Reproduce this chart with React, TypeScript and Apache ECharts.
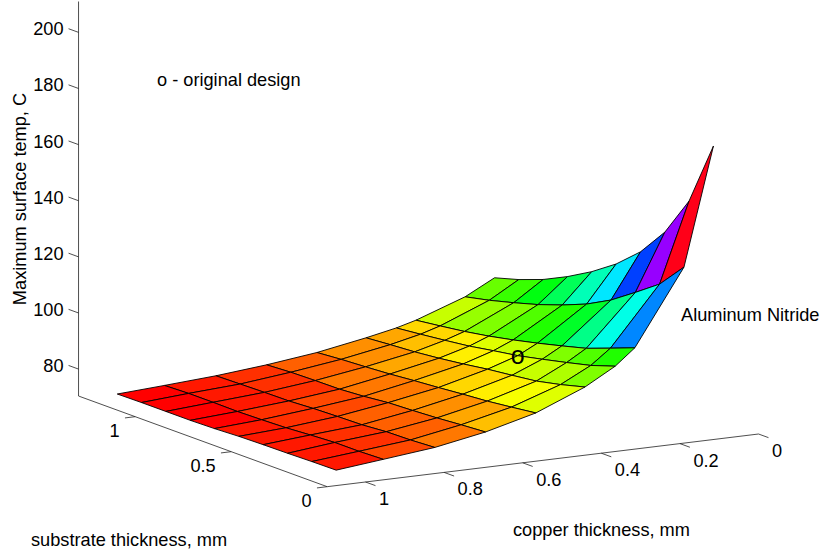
import React, { useEffect, useRef } from "react";
import * as echarts from "echarts";

// Grid values
const copper = [0.1, 0.175, 0.3, 0.35, 0.427, 0.552, 0.68, 0.809, 0.94, 1.06];
const substrate = [0.03, 0.157, 0.283, 0.41, 0.537, 0.664, 0.79, 0.917, 1.044, 1.17];

const temp0 = [174.0, 151.2, 137.0, 126.8, 119.3, 113.4, 108.5, 104.3, 101.1, 98.6];
const temp1 = [132.1, 122.9, 116.8, 110.9, 106.3, 102.8, 99.8, 97.3, 95.0, 93.1];
const temp2 = [105.5, 102.2, 99.0, 96.7, 94.5, 92.5, 90.7, 89.2, 88.0, 86.9];
const temp3 = [99.8, 96.9, 94.8, 92.8, 90.9, 89.5, 88.0, 86.9, 85.9, 85.0];
const temp4 = [93.7, 91.4, 89.5, 88.4, 87.4, 86.1, 85.0, 84.1, 83.5, 82.8];
const temp5 = [86.6, 85.5, 84.5, 83.8, 83.0, 82.3, 81.5, 80.9, 80.4, 79.7];
const temp6 = [82.0, 81.4, 80.7, 80.2, 79.8, 78.9, 78.3, 78.2, 78.0, 77.5];
const temp7 = [78.7, 78.2, 78.0, 77.3, 77.1, 76.8, 76.3, 76.2, 76.0, 75.8];
const temp8 = [76.7, 76.4, 76.4, 75.9, 75.3, 75.0, 74.8, 74.9, 74.9, 74.6];
const temp9 = [74.9, 74.8, 74.6, 74.5, 74.3, 73.9, 73.7, 73.7, 73.7, 73.6];
const temps = [temp0, temp1, temp2, temp3, temp4, temp5, temp6, temp7, temp8, temp9];

const tempTicks = [80, 100, 120, 140, 160, 180, 200];
const substrateTicks = [0, 0.5, 1];
const copperTicks = [0, 0.2, 0.4, 0.6, 0.8, 1];
const originalDesign = { copper: 0.3, substrate: 0.64, temp: 87 };

const axisCopperEnd = 1.0975;
const axisSubstrateEnd = 1.295;
const axisTempFloor = 70.4;
const axisTempTop = 211;

const FONT = '"Liberation Sans", Arial, sans-serif';
const FS = 18.2;

// Fixed oblique view of the three data dimensions
function project(c: number, s: number, z: number): [number, number] {
  return [
    758.5 - 393 * c - 192 * s,
    434 + 48 * c - 70 * s - 2.806 * (z - 70.4),
  ];
}

const flat = temps.flat();
const zLo = Math.min(...flat);
const zHi = Math.max(...flat);

function hsvColor(z: number): string {
  const k = Math.min(63, Math.floor(((z - zLo) / (zHi - zLo)) * 64));
  const h = (k / 64) * 6;
  const sector = Math.floor(h);
  const f = h - sector;
  const u = Math.round(255 * f);
  const d = 255 - u;
  const rgb = [
    [255, u, 0],
    [d, 255, 0],
    [0, 255, u],
    [0, d, 255],
    [u, 0, 255],
    [255, 0, d],
  ][sector];
  return `rgb(${rgb[0]},${rgb[1]},${rgb[2]})`;
}

type Cell = number[];
const cells: Cell[] = [];
for (let i = 0; i < copper.length - 1; i++) {
  for (let j = substrate.length - 2; j >= 0; j--) {
    cells.push([
      copper[i], substrate[j], temps[i][j],
      copper[i + 1], substrate[j], temps[i + 1][j],
      copper[i + 1], substrate[j + 1], temps[i + 1][j + 1],
      copper[i], substrate[j + 1], temps[i][j + 1],
    ]);
  }
}

type Seg = number[];
const segments: Seg[] = [
  [axisCopperEnd, axisSubstrateEnd, axisTempFloor, axisCopperEnd, axisSubstrateEnd, axisTempTop],
  [axisCopperEnd, axisSubstrateEnd, axisTempFloor, axisCopperEnd, 0, axisTempFloor],
  [axisCopperEnd, 0, axisTempFloor, 0, 0, axisTempFloor],
];
tempTicks.forEach((t) =>
  segments.push([axisCopperEnd, axisSubstrateEnd, t, axisCopperEnd, axisSubstrateEnd + 0.052, t])
);
substrateTicks.forEach((s) =>
  segments.push([axisCopperEnd, s, axisTempFloor, axisCopperEnd + 0.026, s, axisTempFloor])
);
copperTicks.forEach((c) =>
  segments.push([c, 0, axisTempFloor, c, -0.052, axisTempFloor])
);

type Lab = { p: [number, number, number]; dx: number; dy: number; text: string; align: string };
const labels: Lab[] = [
  ...tempTicks.map((t) => ({
    p: [axisCopperEnd, axisSubstrateEnd, t] as [number, number, number],
    dx: -15, dy: -3, text: String(t), align: "right",
  })),
  ...substrateTicks.map((s) => ({
    p: [axisCopperEnd, s, axisTempFloor] as [number, number, number],
    dx: -15.5, dy: 14, text: String(s), align: "right",
  })),
  ...copperTicks.map((c) => ({
    p: [c, 0, axisTempFloor] as [number, number, number],
    dx: 13.5, dy: 17, text: String(c), align: "left",
  })),
];

const freeTexts = [
  { text: "o - original design", x: 157, y: 80, rotation: 0, align: "left" },
  { text: "Aluminum Nitride", x: 681, y: 315, rotation: 0, align: "left" },
  { text: "substrate thickness, mm", x: 31, y: 540, rotation: 0, align: "left" },
  { text: "copper thickness, mm", x: 513, y: 530, rotation: 0, align: "left" },
  { text: "Maximum surface temp, C", x: 20, y: 199, rotation: Math.PI / 2, align: "center" },
];

export default function App() {
  const ref = useRef<HTMLDivElement>(null);
  useEffect(() => {
    document.body.style.margin = "0";
    const chart = echarts.init(ref.current!, undefined, { renderer: "svg" });
    chart.setOption({
      animation: false,
      backgroundColor: "#fff",
      grid: { left: 0, top: 0, width: 823, height: 554 },
      xAxis: { type: "value", min: 0, max: 823, show: false },
      yAxis: { type: "value", min: 0, max: 554, inverse: true, show: false },
      graphic: freeTexts.map((t) => ({
        type: "text",
        x: t.x,
        y: t.y,
        rotation: t.rotation,
        z: 10,
        style: {
          text: t.text,
          fontFamily: FONT,
          fontSize: FS,
          fill: "#000",
          align: t.align,
          verticalAlign: "middle",
        },
      })),
      series: [
        {
          type: "custom",
          coordinateSystem: "cartesian2d",
          clip: false,
          silent: true,
          data: segments,
          renderItem: (_p: any, api: any) => {
            const a = api.coord(project(api.value(0), api.value(1), api.value(2)));
            const b = api.coord(project(api.value(3), api.value(4), api.value(5)));
            return {
              type: "line",
              shape: { x1: a[0], y1: a[1], x2: b[0], y2: b[1] },
              style: { stroke: "#222", lineWidth: 0.8, fill: null },
            };
          },
        },
        {
          type: "custom",
          coordinateSystem: "cartesian2d",
          clip: false,
          silent: true,
          data: cells,
          renderItem: (_p: any, api: any) => {
            const pts = [0, 3, 6, 9].map((k) =>
              api.coord(project(api.value(k), api.value(k + 1), api.value(k + 2)))
            );
            return {
              type: "polygon",
              shape: { points: pts },
              style: { fill: hsvColor(api.value(2)), stroke: "#000", lineWidth: 0.9 },
            };
          },
        },
        {
          type: "custom",
          coordinateSystem: "cartesian2d",
          clip: false,
          silent: true,
          data: labels.map((l, idx) => [idx]),
          renderItem: (_p: any, api: any) => {
            const l = labels[api.value(0)];
            const a = api.coord(project(l.p[0], l.p[1], l.p[2]));
            return {
              type: "text",
              x: a[0] + l.dx,
              y: a[1] + l.dy,
              style: {
                text: l.text,
                fontFamily: FONT,
                fontSize: FS,
                fill: "#000",
                align: l.align,
                verticalAlign: "middle",
              },
            };
          },
        },
        {
          type: "custom",
          coordinateSystem: "cartesian2d",
          clip: false,
          silent: true,
          z: 5,
          data: [[originalDesign.copper, originalDesign.substrate, originalDesign.temp]],
          renderItem: (_p: any, api: any) => {
            const a = api.coord(project(api.value(0), api.value(1), api.value(2)));
            return {
              type: "text",
              x: a[0],
              y: a[1] - 2,
              style: {
                text: "o",
                fontFamily: FONT,
                fontSize: 25,
                fill: "#000",
                align: "center",
                verticalAlign: "middle",
              },
            };
          },
        },
      ],
    });
    return () => chart.dispose();
  }, []);
  return <div ref={ref} style={{ position: "fixed", left: 0, top: 0, width: 823, height: 554 }} />;
}
